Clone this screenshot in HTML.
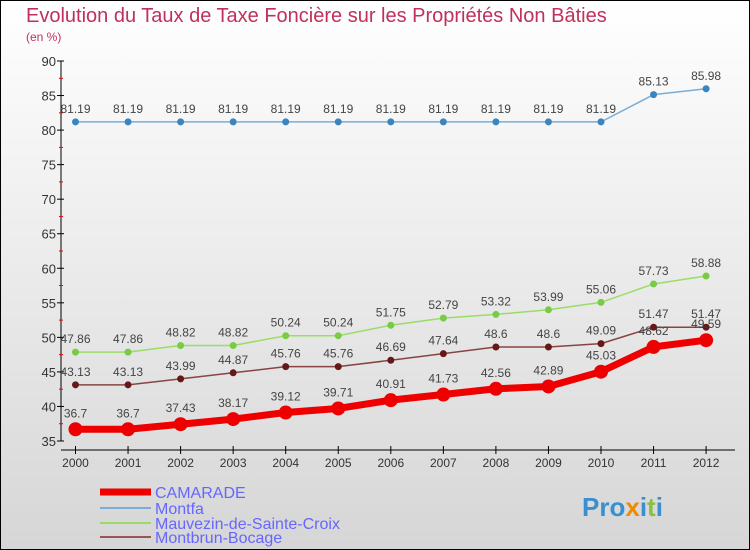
<!DOCTYPE html>
<html><head><meta charset="utf-8"><style>
body{margin:0}
#c{width:750px;height:550px;position:relative;overflow:hidden;font-family:"Liberation Sans",sans-serif}
</style></head><body>
<div id="c">
<svg id="s" width="750" height="550" xmlns="http://www.w3.org/2000/svg">
<defs><linearGradient id="bg" x1="0" y1="0" x2="0" y2="1"><stop offset="0" stop-color="#ffffff"/><stop offset="1" stop-color="#d6d6d6"/></linearGradient></defs>
<rect x="0.5" y="0.5" width="749" height="549" fill="url(#bg)" stroke="#000"/>
<text x="26" y="22" font-size="20" fill="#c0305a">Evolution du Taux de Taxe Foncière sur les Propriétés Non Bâties</text>
<text x="26" y="41" font-size="12" fill="#c0305a">(en %)</text>
<g id="axes"></g><g id="series"></g>
<g>
<line x1="100" y1="492" x2="151" y2="492" stroke="#ee0000" stroke-width="7"/>
<text x="155" y="498" font-size="16" fill="#6666ff">CAMARADE</text>
<line x1="100" y1="508" x2="151" y2="508" stroke="#7aaed6" stroke-width="2"/>
<text x="155" y="514" font-size="16" fill="#6666ff">Montfa</text>
<line x1="100" y1="523" x2="151" y2="523" stroke="#99dd66" stroke-width="2"/>
<text x="155" y="529" font-size="16" fill="#6666ff">Mauvezin-de-Sainte-Croix</text>
<line x1="100" y1="537" x2="151" y2="537" stroke="#995555" stroke-width="2"/>
<text x="155" y="543" font-size="16" fill="#6666ff">Montbrun-Bocage</text>
</g>
<text x="582" y="516" font-size="26" font-weight="bold" fill="#3a8fd0">Pro<tspan fill="#f08a00">x</tspan>i<tspan fill="#8ac040">t</tspan>i</text>
</svg>
</div>
<script>
const years=[2000,2001,2002,2003,2004,2005,2006,2007,2008,2009,2010,2011,2012];
const camarade=[36.7,36.7,37.43,38.17,39.12,39.71,40.91,41.73,42.56,42.89,45.03,48.62,49.59];
const montfa=[81.19,81.19,81.19,81.19,81.19,81.19,81.19,81.19,81.19,81.19,81.19,85.13,85.98];
const mauvezin=[47.86,47.86,48.82,48.82,50.24,50.24,51.75,52.79,53.32,53.99,55.06,57.73,58.88];
const montbrun=[43.13,43.13,43.99,44.87,45.76,45.76,46.69,47.64,48.6,48.6,49.09,51.47,51.47];
const yTicks=[35,40,45,50,55,60,65,70,75,80,85,90];
const NS="http://www.w3.org/2000/svg";
const xs=i=>75.5+i*52.55;
const ys=v=>441-(v-35)*(380/55);
function mk(t,a,p){const e=document.createElementNS(NS,t);for(const k in a)e.setAttribute(k,a[k]);p.appendChild(e);return e;}
const ax=document.getElementById('axes');
const yl=mk('line',{x1:61,y1:61,x2:61,y2:441,stroke:'#000'},ax);


const xl=mk('line',{x1:61,y1:450,x2:735,y2:450,stroke:'#000'},ax);


yTicks.forEach((v,i)=>{
 const y=ys(v);
 mk('line',{x1:57,y1:y,x2:64,y2:y,stroke:'#000'},ax);
 if(i<yTicks.length-1){mk('line',{x1:59,y1:ys(v+2.5),x2:63,y2:ys(v+2.5),stroke:'#e00'},ax);}
 const t=mk('text',{x:56,y:y+5,'font-size':13,'text-anchor':'end',fill:'#333'},ax);
 t.textContent=v;
 
 
});
years.forEach((yr,i)=>{
 const x=xs(i);
 mk('line',{x1:x,y1:446,x2:x,y2:454,stroke:'#000'},ax);
 const t=mk('text',{x:x,y:467,'font-size':12,'text-anchor':'middle',fill:'#333'},ax);
 t.textContent=yr;
 
 
});
const sg=document.getElementById('series');
function series(vals,name,color,dot,w,r){
 const g=mk('g',{},sg);
 
 
 const pl=mk('polyline',{points:vals.map((v,i)=>xs(i)+','+ys(v)).join(' '),fill:'none',stroke:color,'stroke-width':w,'stroke-linejoin':'round'},g);
 
 
 vals.forEach((v,i)=>{
  const c=mk('circle',{cx:xs(i),cy:ys(v),r:r,fill:dot},g);
  
  
  const t=mk('text',{x:xs(i),y:ys(v)-9-(r>5?3:0),'font-size':12,'text-anchor':'middle',fill:'#444'},g);
  t.textContent=v;
  
  
 });
}
series(montfa,'montfa','#7aaed6','#3a85c0',1.5,3.5);
series(mauvezin,'mauvezin','#99dd66','#77cc44',1.5,3.5);
series(montbrun,'montbrun','#884444','#661818',1.5,3.5);
series(camarade,'camarade','#ee0000','#ee0000',7,7);
</script>
</body></html>
